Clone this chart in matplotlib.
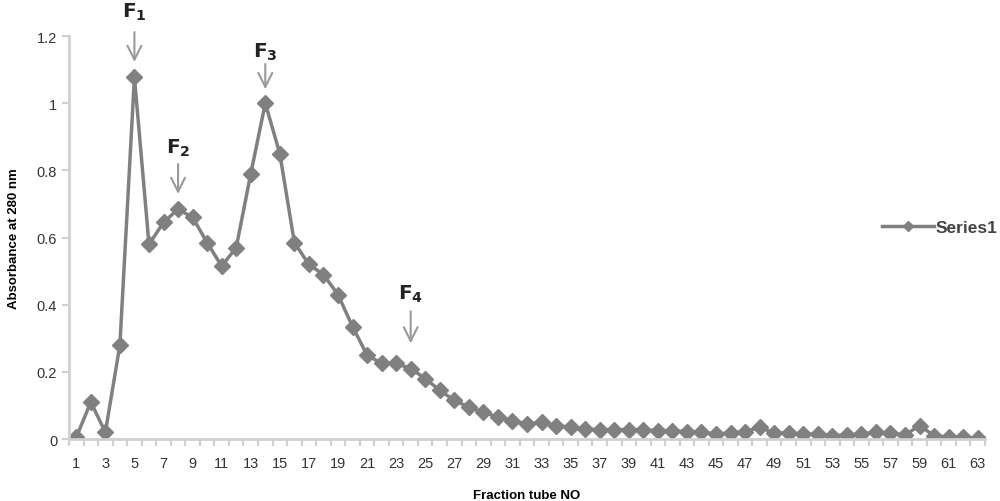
import numpy as np
import matplotlib
matplotlib.use('Agg')
from matplotlib import pyplot as plt

# absorbance of each fraction tube
tubes = list(range(1, 64))
absorbance = [0.005, 0.11, 0.02, 0.28, 1.078, 0.58, 0.645, 0.685, 0.66, 0.585,
              0.515, 0.57, 0.79, 1.0, 0.85, 0.585, 0.52, 0.49, 0.43, 0.335,
              0.25, 0.225, 0.225, 0.21, 0.18, 0.145, 0.115, 0.095, 0.08, 0.065,
              0.055, 0.045, 0.05, 0.04, 0.035, 0.03, 0.028, 0.028, 0.028, 0.027,
              0.025, 0.025, 0.022, 0.02, 0.015, 0.018, 0.022, 0.035, 0.018, 0.018,
              0.015, 0.014, 0.01, 0.012, 0.015, 0.02, 0.018, 0.012, 0.04, 0.01,
              0.006, 0.005, 0.003]

# peak labels: (name, tube, text height, arrow top, arrow tip)
peaks = [('1', 5, 1.275, 1.212, 1.123),
         ('2', 8, 0.87, 0.819, 0.73),
         ('3', 14, 1.155, 1.117, 1.042),
         ('4', 24, 0.435, 0.38, 0.285)]

plt.rcParams['font.family'] = ['Liberation Sans', 'DejaVu Sans']

fig = plt.figure(figsize=(10, 5.02), dpi=100)
ax = fig.add_axes([0.069, 0.1235, 0.916, 0.8025])

line_col = '#808080'
ax.plot(tubes, absorbance, color=line_col, lw=2.5, marker='D', ms=8,
        markeredgecolor=line_col, markerfacecolor=line_col, label='Series1')

ax.set_xlim(0.5, 63.5)
ax.set_ylim(0, 1.2)
ax.set_yticks([0, 0.2, 0.4, 0.6, 0.8, 1, 1.2])
ax.set_yticklabels(['0', '0.2', '0.4', '0.6', '0.8', '1', '1.2'])
ax.set_xticks(tubes[::2])
ax.set_xticklabels([str(t) for t in tubes[::2]])
ax.set_xticks(np.arange(0.5, 64, 1), minor=True)

for s in ['top', 'right']:
    ax.spines[s].set_visible(False)
for s in ['left', 'bottom']:
    ax.spines[s].set_color('#d0d0d0')
    ax.spines[s].set_linewidth(2)
ax.tick_params(axis='x', which='major', length=0, pad=12, labelsize=10.5, colors='#333333')
ax.tick_params(axis='x', which='minor', length=5, width=1.5, color='#d0d0d0')
ax.tick_params(axis='y', length=5, width=1.5, color='#d0d0d0', labelsize=10.5,
               labelcolor='#333333')
for lab in ax.get_xticklabels():
    lab.set_color('#333333')

ax.set_xlabel('Fraction tube NO', fontsize=9.5, fontweight='bold', labelpad=14)
ax.set_ylabel('Absorbance at 280 nm', fontsize=9.5, fontweight='bold', labelpad=12)

for name, x, ty, a0, a1 in peaks:
    ax.text(x, ty, r'$\mathbf{F_{%s}}$' % name, ha='center', va='center',
            fontsize=14.5, family='DejaVu Sans', color='#222222', clip_on=False)
    ax.annotate('', xy=(x, a1), xytext=(x, a0), annotation_clip=False,
                arrowprops=dict(arrowstyle='->,head_length=1.0,head_width=0.5',
                                color='#999999', lw=1.5, shrinkA=0, shrinkB=0))

leg = ax.legend(loc='center left', bbox_to_anchor=(0.88, 0.525), frameon=False,
                fontsize=12.5, handlelength=3, markerscale=0.6, borderaxespad=0,
                handletextpad=0.1)
for t in leg.get_texts():
    t.set_color('#444444')
    t.set_fontweight('bold')

fig.savefig('out.png', dpi=100)
